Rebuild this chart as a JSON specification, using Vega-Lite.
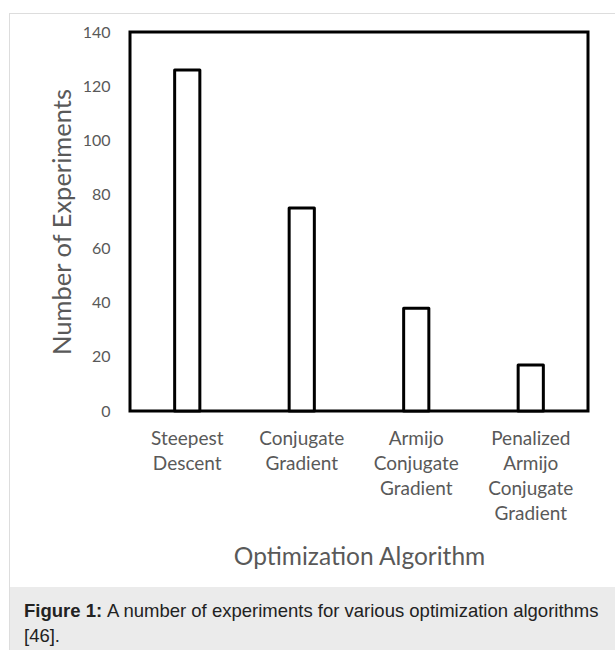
{
  "$schema": "https://vega.github.io/schema/vega-lite/v6.json",
  "background": "white",
  "padding": {"left": 9, "top": 13, "right": 0, "bottom": 0},
  "spacing": 0,
  "config": {"view": {"stroke": null}},
  "hconcat": [
    {"width": 1, "height": 637, "view": {"fill": "#dddddd", "stroke": null}, "data": {"values": []}, "mark": "rect"},
    {
      "spacing": 8,
      "vconcat": [
        {"width": 605, "height": 1, "view": {"fill": "#dddddd", "stroke": null}, "data": {"values": []}, "mark": "rect"},
        {
          "spacing": 17,
          "vconcat": [
            {
              "spacing": 0,
              "hconcat": [
                {"width": 38, "height": 1, "view": {"fill": "white", "stroke": null}, "data": {"values": []}, "mark": "rect"},
                {
                  "width": 458,
                  "height": 379,
                  "view": {"stroke": "black", "strokeWidth": 3, "fill": "white"},
                  "data": {"values": [
                    {"algorithm": "Steepest Descent", "experiments": 126},
                    {"algorithm": "Conjugate Gradient", "experiments": 75},
                    {"algorithm": "Armijo Conjugate Gradient", "experiments": 38},
                    {"algorithm": "Penalized Armijo Conjugate Gradient", "experiments": 17}
                  ]},
                  "mark": {"type": "bar", "fill": "white", "stroke": "black", "strokeWidth": 3, "strokeJoin": "round"},
                  "encoding": {
                    "x": {
                      "field": "algorithm", "type": "nominal", "sort": null,
                      "scale": {"paddingInner": 0.78, "paddingOuter": 0.39},
                      "axis": {
                        "title": "Optimization Algorithm", "labelAngle": 0,
                        "labelExpr": "split(datum.label, ' ')",
                        "domain": false, "ticks": false, "tickSize": 0,
                        "labelPadding": 18, "labelLineHeight": 25,
                        "labelFont": "Lato", "labelFontSize": 19, "labelColor": "#595959",
                        "labelBaseline": "top", "labelLimit": 0,
                        "titleFont": "Lato", "titleFontSize": 24.5, "titleFontWeight": "normal",
                        "titleColor": "#595959", "titlePadding": 22
                      }
                    },
                    "y": {
                      "field": "experiments", "type": "quantitative",
                      "scale": {"domain": [0, 140], "nice": false},
                      "axis": {
                        "title": "Number of Experiments",
                        "values": [0, 20, 40, 60, 80, 100, 120, 140],
                        "grid": false, "domain": false, "ticks": false, "tickSize": 0,
                        "labelPadding": 20, "labelFont": "Lato", "labelFontSize": 16, "labelColor": "#595959",
                        "titleFont": "Lato", "titleFontSize": 25.5, "titleFontWeight": "normal",
                        "titleColor": "#595959", "titlePadding": 7
                      }
                    }
                  }
                }
              ]
            },
            {
              "width": 605,
              "height": 63,
              "view": {"fill": "#ebebeb", "stroke": null},
              "layer": [
                {
                  "data": {"values": [{"t": "Figure 1:"}]},
                  "mark": {"type": "text", "font": "Liberation Sans", "fontSize": 18.5, "fontWeight": "bold", "align": "left", "baseline": "alphabetic", "color": "#222222"},
                  "encoding": {"text": {"field": "t"}, "x": {"value": 14}, "y": {"value": 30}}
                },
                {
                  "data": {"values": [{"t": "A number of experiments for various optimization algorithms"}]},
                  "mark": {"type": "text", "font": "Liberation Sans", "fontSize": 18.5, "align": "left", "baseline": "alphabetic", "color": "#222222"},
                  "encoding": {"text": {"field": "t"}, "x": {"value": 97}, "y": {"value": 30}}
                },
                {
                  "data": {"values": [{"t": "[46]."}]},
                  "mark": {"type": "text", "font": "Liberation Sans", "fontSize": 18.5, "align": "left", "baseline": "alphabetic", "color": "#222222"},
                  "encoding": {"text": {"field": "t"}, "x": {"value": 14}, "y": {"value": 55}}
                }
              ]
            }
          ]
        }
      ]
    }
  ]
}
